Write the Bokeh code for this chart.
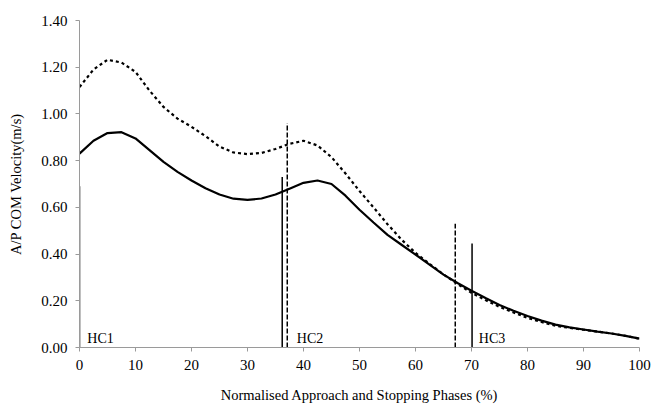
from bokeh.plotting import figure
from bokeh.models import Range1d, FixedTicker, CustomJSTickFormatter
from bokeh.core.properties import value
from bokeh.embed import file_html
from bokeh.resources import INLINE

# Normalised phase (%)
x_pct = [0, 2.5, 5, 7.5, 10, 12.5, 15, 17.5, 20, 22.5, 25, 27.5, 30, 32.5, 35,
         37.5, 40, 42.5, 45, 47.5, 50, 52.5, 55, 57.5, 60, 62.5, 65, 67.5, 70,
         72.5, 75, 77.5, 80, 82.5, 85, 87.5, 90, 92.5, 95, 97.5, 100]
# solid curve (A/P COM velocity, m/s)
solid_vel = [0.83, 0.885, 0.918, 0.922, 0.895, 0.845, 0.795, 0.752, 0.715, 0.682,
             0.655, 0.637, 0.632, 0.638, 0.655, 0.680, 0.705, 0.715, 0.700, 0.650,
             0.590, 0.535, 0.482, 0.440, 0.398, 0.355, 0.312, 0.276, 0.243, 0.212,
             0.182, 0.157, 0.135, 0.115, 0.098, 0.086, 0.077, 0.068, 0.060, 0.050,
             0.038]
# dashed curve
dashed_vel = [1.115, 1.19, 1.232, 1.22, 1.18, 1.10, 1.03, 0.98, 0.945, 0.905,
              0.86, 0.835, 0.828, 0.833, 0.85, 0.872, 0.885, 0.865, 0.815, 0.745,
              0.67, 0.60, 0.528, 0.462, 0.405, 0.358, 0.313, 0.272, 0.234, 0.203,
              0.174, 0.150, 0.127, 0.109, 0.093, 0.084, 0.076, 0.068, 0.060, 0.050,
              0.038]

# heel-contact markers: position (%), top (m/s), style
hc_solid_x = [0, 36.2, 70.1]
hc_solid_top = [0.69, 0.73, 0.445]
hc_dashed_x = [37.1, 67.1]
hc_dashed_top = [0.96, 0.53]
hc_labels = ["HC1", "HC2", "HC3"]
hc_label_x = [1.4, 38.8, 71.3]

x_ticks = [0, 10, 20, 30, 40, 50, 60, 70, 80, 90, 100]
y_ticks = [0.0, 0.2, 0.4, 0.6, 0.8, 1.0, 1.2, 1.4]

serif = "Liberation Serif"

p = figure(width=655, height=408, output_backend="svg", toolbar_location=None,
           x_range=Range1d(0, 100), y_range=Range1d(0, 1.4),
           min_border_left=79, min_border_right=16, min_border_top=20,
           min_border_bottom=61)
p.outline_line_color = None
p.grid.grid_line_color = None
p.background_fill_color = "white"

p.line(x_pct, solid_vel, line_color="black", line_width=2.2)
p.line(x_pct, dashed_vel, line_color="black", line_width=2.2, line_dash="3 3")

p.segment(x0=hc_solid_x, y0=[0] * len(hc_solid_x), x1=hc_solid_x, y1=hc_solid_top,
          line_color="black", line_width=1.5)
p.segment(x0=hc_dashed_x, y0=[0] * len(hc_dashed_x), x1=hc_dashed_x, y1=hc_dashed_top,
          line_color="black", line_width=1.5, line_dash="5 2")

p.text(x=hc_label_x, y=[0.006] * 3, text=hc_labels, text_font=value(serif),
       text_font_size="14px", text_baseline="bottom", text_color="black")

p.xaxis.ticker = FixedTicker(ticks=x_ticks)
p.yaxis.ticker = FixedTicker(ticks=y_ticks)
p.yaxis.formatter = CustomJSTickFormatter(code="return tick.toFixed(2);")
for ax in (p.xaxis[0], p.yaxis[0]):
    ax.axis_line_color = "#9a9a9a"
    ax.axis_line_width = 1
    ax.major_tick_line_color = "#9a9a9a"
    ax.major_tick_out = 4
    ax.major_tick_in = 0
    ax.minor_tick_line_color = None
    ax.major_label_text_font = serif
    ax.major_label_text_font_size = "15px"
    ax.major_label_text_color = "black"
    ax.axis_label_text_font = serif
    ax.axis_label_text_font_size = "14.5px"
    ax.axis_label_text_font_style = "normal"
    ax.axis_label_text_color = "black"

p.xaxis.axis_label = "Normalised Approach and Stopping Phases (%)"
p.yaxis.axis_label = "A/P COM Velocity(m/s)"
p.xaxis.major_label_standoff = 8
p.xaxis.axis_label_standoff = 14
p.yaxis.major_label_standoff = 8
p.yaxis.axis_label_standoff = 14

open("out.html", "w").write(file_html(p, INLINE))
